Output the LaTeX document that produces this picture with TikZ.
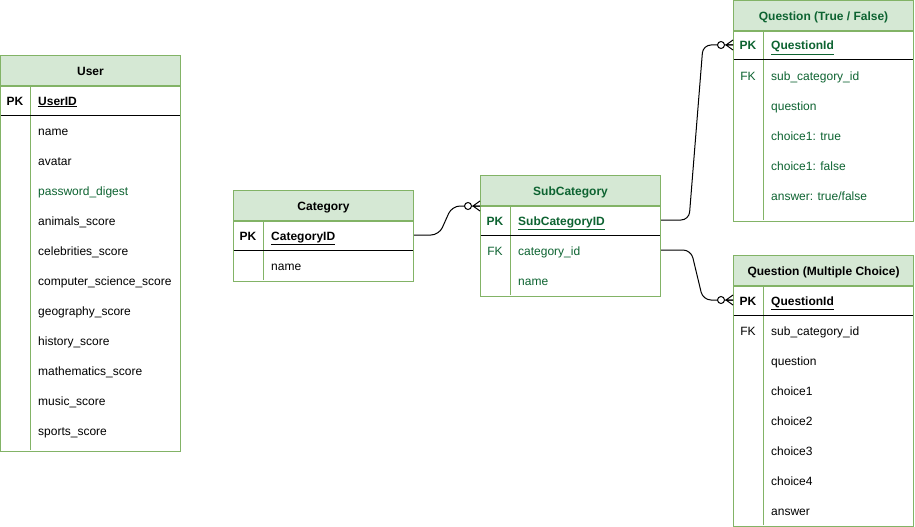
\documentclass[tikz,border=0pt]{standalone}
\usepackage{fontspec}
\setmainfont{Liberation Sans}
\usepackage{xcolor}
\usepackage{tikz}
\usetikzlibrary{positioning, calc}
\definecolor{erfill}{HTML}{D5E8D4}
\definecolor{erline}{HTML}{82B366}
\definecolor{ertext}{HTML}{0D6331}
\tikzset{
  tblhead/.style={draw=erline, fill=erfill, line width=1pt, minimum width=180pt, minimum height=30pt, anchor=north west, inner sep=0pt, text height=10.5pt, text depth=0pt, font=\bfseries},
  tblbody/.style={draw=erline, fill=white, line width=1pt, minimum width=180pt, anchor=north west, inner sep=0pt},
  keycol/.style={inner sep=0pt, text height=11pt, text depth=1pt},
  field/.style={anchor=west, inner sep=0pt, text height=11pt, text depth=1pt},
  pkfield/.style={field, font=\bfseries},
  divider/.style={draw=erline, line width=1pt},
  keyline/.style={draw=black, line width=1pt},
  relline/.style={draw=black, line width=1pt, rounded corners=8pt},
  zeromany/.pic={
    \draw[line width=1pt] (-7,0) -- (0,-5) (-7,0) -- (0,0) (-7,0) -- (0,5);
    \draw[line width=1pt, fill=white] (-12,0) circle (3.5pt);
  }
}

\begin{document}
\fontsize{12}{14}\selectfont
\begin{tikzpicture}[x=1pt, y=-1pt]
  \useasboundingbox (0,0) rectangle (915,527);

  % User
  \node[tblhead] (user) at (0,55) {User};
  \node[tblbody, minimum height=365pt] (userbody) at (user.south west) {};
  \draw[divider] (30,85) -- (30,450);
  \draw[keyline] (0.5,115) -- (179.5,115);
  \node[keycol, font=\bfseries] (userpkkey) at (15,100) {PK};
  \node[pkfield] (userpk) at (38,100) {\underline{UserID}};
  \foreach \f/\c [count=\i] in {name/black, avatar/black, password\_digest/ertext,
      animals\_score/black, celebrities\_score/black, computer\_science\_score/black,
      geography\_score/black, history\_score/black, mathematics\_score/black,
      music\_score/black, sports\_score/black}
    \node[field, text=\c] (userf\i) at (38,100+30*\i) {\f};

  % Category
  \node[tblhead] (cat) at (233,190) {Category};
  \node[tblbody, minimum height=60pt] (catbody) at (cat.south west) {};
  \draw[divider] (263,220) -- (263,280);
  \draw[keyline] (233.5,250) -- (412.5,250);
  \node[keycol, font=\bfseries] (catpkkey) at (248,235) {PK};
  \node[pkfield] (catpk) at (271,235) {\underline{CategoryID}};
  \node[field] (catname) at (271,265) {name};

  % SubCategory
  \node[tblhead, text=ertext] (sub) at (480,175) {SubCategory};
  \node[tblbody, minimum height=90pt] (subbody) at (sub.south west) {};
  \draw[divider] (510,205) -- (510,295);
  \draw[keyline] (480.5,235) -- (659.5,235);
  \node[keycol, font=\bfseries, text=ertext] (subpkkey) at (495,220) {PK};
  \node[pkfield, text=ertext] (subpk) at (518,220) {\underline{SubCategoryID}};
  \node[keycol, text=ertext] (subfkkey) at (495,250) {FK};
  \node[field, text=ertext] (subfk) at (518,250) {category\_id};
  \node[field, text=ertext] (subname) at (518,280) {name};

  % Question (True / False)
  \node[tblhead, text=ertext] (tf) at (733,0) {Question (True / False)};
  \node[tblbody, minimum height=190pt] (tfbody) at (tf.south west) {};
  \draw[divider] (763,30) -- (763,220);
  \draw[keyline] (733.5,60) -- (912.5,60);
  \node[keycol, font=\bfseries, text=ertext] (tfpkkey) at (748,45) {PK};
  \node[pkfield, text=ertext] (tfpk) at (771,45) {\underline{QuestionId}};
  \node[keycol, text=ertext] (tffkkey) at (748,75) {FK};
  \foreach \f [count=\i] in {sub\_category\_id, question, choice1: true,
      choice1: false, answer: true/false}
    \node[field, text=ertext] (tff\i) at (771,45+30*\i) {\f};

  % Question (Multiple Choice)
  \node[tblhead] (mc) at (733,255) {Question (Multiple Choice)};
  \node[tblbody, minimum height=240pt] (mcbody) at (mc.south west) {};
  \draw[divider] (763,285) -- (763,525);
  \draw[keyline] (733.5,315) -- (912.5,315);
  \node[keycol, font=\bfseries] (mcpkkey) at (748,300) {PK};
  \node[pkfield] (mcpk) at (771,300) {\underline{QuestionId}};
  \node[keycol] (mcfkkey) at (748,330) {FK};
  \foreach \f [count=\i] in {sub\_category\_id, question, choice1, choice2,
      choice3, choice4, answer}
    \node[field] (mcf\i) at (771,300+30*\i) {\f};

  % relations
  \coordinate (subjoin) at (sub.south west);
  \coordinate (tfjoin) at (tfbody.west |- tfpk);
  \coordinate (mcjoin) at (mcbody.west |- mcpk);
  \draw[relline] (catbody.east |- catpk) -- ++(25,0)
    -- ($(subjoin)+(-28,0)$) -- (subjoin);
  \draw[relline] (subbody.east |- subpk) -- ++(28,0)
    -- ($(tfjoin)+(-30,0)$) -- (tfjoin);
  \draw[relline] (subbody.east |- subfk) -- ++(30,0)
    -- ($(mcjoin)+(-30,0)$) -- (mcjoin);
  \pic at (subjoin) {zeromany};
  \pic at (tfjoin) {zeromany};
  \pic at (mcjoin) {zeromany};
\end{tikzpicture}
\end{document}
